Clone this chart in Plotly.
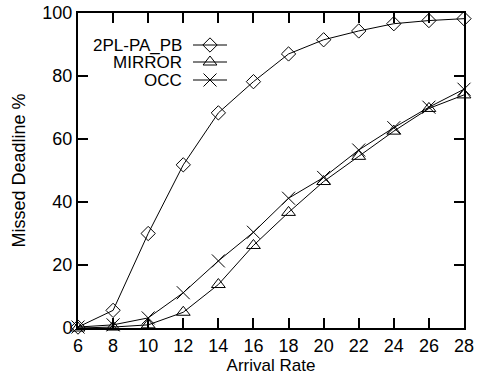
import plotly.graph_objects as go

arrival = [6, 8, 10, 12, 14, 16, 18, 20, 22, 24, 26, 28]
pl_pa_pb = [0.3, 5.6, 30.0, 51.8, 68.3, 78.2, 87.0, 91.5, 94.3, 96.6, 97.6, 98.2]
mirror = [0.0, 0.3, 1.0, 5.0, 13.8, 26.2, 36.7, 46.5, 54.5, 62.5, 69.7, 74.0]
occ = [0.3, 1.0, 3.2, 11.2, 21.3, 30.4, 41.2, 47.8, 56.5, 63.6, 70.1, 75.8]
series_names = ["2PL-PA_PB", "MIRROR", "OCC"]
x_ticks = list(range(6, 29, 2))
y_ticks = [0, 20, 40, 60, 80, 100]

FONT = "Liberation Sans, Arial, sans-serif"
BLACK = "black"
FS = 18

symbols = ["diamond-open", "triangle-up-open", "x-thin-open"]
sizes = [11, 12, 13]
data = [pl_pa_pb, mirror, occ]

fig = go.Figure()
for name, ys, sym, sz in zip(series_names, data, symbols, sizes):
    fig.add_trace(go.Scatter(
        x=arrival, y=ys, mode="lines+markers", name=name,
        line=dict(color=BLACK, width=1),
        marker=dict(symbol=sym, size=sz, color=BLACK,
                    line=dict(color=BLACK, width=1)),
        cliponaxis=False, showlegend=False,
    ))

# custom gnuplot-style legend (text on left, sample on right) in pixel-like overlay axes
leg_y = [45, 62, 80]
for name, sym, sz, ly in zip(series_names, symbols, sizes, leg_y):
    fig.add_trace(go.Scatter(
        x=[193, 227], y=[ly, ly], mode="lines", xaxis="x2", yaxis="y2",
        line=dict(color=BLACK, width=1), showlegend=False, hoverinfo="skip",
    ))
    fig.add_trace(go.Scatter(
        x=[210], y=[ly], mode="markers", xaxis="x2", yaxis="y2",
        marker=dict(symbol=sym, size=sz, color=BLACK, line=dict(color=BLACK, width=1)),
        showlegend=False, hoverinfo="skip",
    ))
    fig.add_annotation(x=183, y=ly, xref="x2", yref="y2", text=name,
                       showarrow=False, xanchor="right", yanchor="middle",
                       borderpad=0,
                       font=dict(family=FONT, size=17, color=BLACK))

axis_common = dict(
    showgrid=False, zeroline=False, showline=True, linecolor=BLACK, linewidth=2,
    mirror="ticks", ticks="inside", ticklen=10, tickwidth=1.5, tickcolor=BLACK,
    tickfont=dict(family=FONT, size=FS, color=BLACK), automargin=False,
)

fig.update_layout(
    width=479, height=376,
    margin=dict(l=78, r=15, t=13, b=48, autoexpand=False),
    paper_bgcolor="white", plot_bgcolor="white",
    font=dict(family=FONT, color=BLACK),
    xaxis=dict(range=[6, 28], tickvals=x_ticks, **axis_common,
               title=dict(text="Arrival Rate", font=dict(family=FONT, size=17, color=BLACK), standoff=1)),
    yaxis=dict(range=[0, 100], tickvals=y_ticks, **axis_common,
               title=dict(text="Missed Deadline %", font=dict(family=FONT, size=FS, color=BLACK), standoff=12)),
    xaxis2=dict(range=[78, 464], overlaying="x", visible=False, fixedrange=True),
    yaxis2=dict(range=[328, 13], overlaying="y", visible=False, fixedrange=True),
)

fig.write_html("out.html")
